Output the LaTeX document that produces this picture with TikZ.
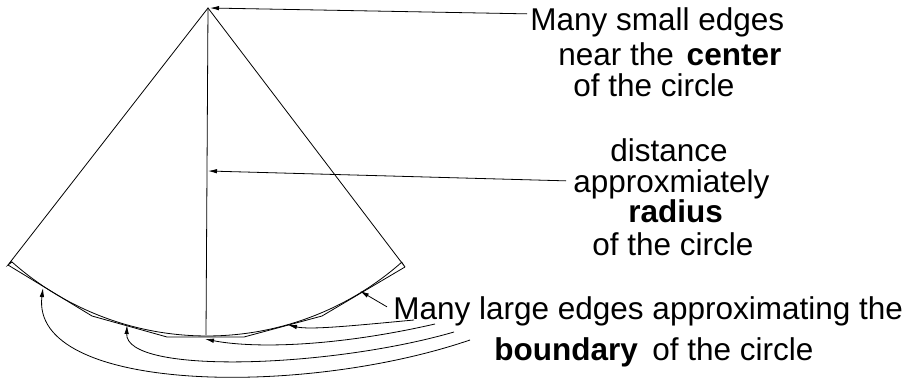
\documentclass[tikz,border=0pt]{standalone}
\usepackage{fontspec}
\setmainfont{Liberation Sans}
\usetikzlibrary{arrows.meta, positioning}

\begin{document}
\begin{tikzpicture}[x=1pt, y=-1pt, line width=0.8pt,
    lbl/.style={anchor=base west, inner sep=0pt, font=\fontsize{31.5}{36}\selectfont},
    ptr/.style={-{Latex[length=9pt, width=4.5pt]}}]
    \useasboundingbox (0,0) rectangle (908,379);

    % Sector corners
    \coordinate (apex) at (208,8);
    \coordinate (lc) at (8,265);
    \coordinate (rc) at (405,267);
    \coordinate (bot) at (206,335);

    % Sector with the circle arc
    \draw (apex) -- (lc) -- (12,262)
        -- plot[domain=131.5:48.5, samples=80] ({207+294*cos(\x)}, {42+294*sin(\x)})
        -- (rc) -- cycle;

    % Large edges along the boundary
    \draw (lc) -- (92,316) -- (167,337) -- (244,337) -- (322,316) -- (rc);

    % Radius
    \draw (apex) -- (bot);

    % Labels
    \node[lbl] (small1) at (530,31) {Many small edges};
    \node[lbl] (small2) at (558,66) {near the\hspace{4pt} \textbf{center}};
    \node[lbl] (small3) at (573,97) {of the circle};
    \node[lbl] (rad1) at (610,162) {distance};
    \node[lbl] (rad2) at (573,193) {approxmiately};
    \node[lbl] (rad3) at (628,223) {\textbf{radius}};
    \node[lbl] (rad4) at (592,256) {of the circle};
    \node[lbl] (large1) at (393,320) {Many large edges approximating the};
    \node[lbl] (large2) at (494,361) {\textbf{boundary}};
    \node[lbl] (large3) at (652,361) {of the circle};

    % Arrow ends
    \coordinate (mid) at (208,171);
    \coordinate (e1) at (360,291);
    \coordinate (e2) at (288,325);
    \coordinate (e3) at (205,339);
    \coordinate (e4) at (127,325);
    \coordinate (e5) at (43,288);
    \coordinate (s2) at (414,320);
    \coordinate (s3) at (435,324);
    \coordinate (s4) at (454,332);
    \coordinate (s5) at (470,340);

    % Pointers
    \draw[ptr] ([xshift=-3pt, yshift=9pt]small1.west) -- ([xshift=2pt]apex);
    \draw[ptr] ([xshift=-7pt, yshift=4pt]rad2.west) -- (mid);
    \draw[ptr] ([xshift=-6pt, yshift=5pt]large1.west) -- (e1);
    \draw[ptr] (s2) .. controls (350,326) and (310,330) .. (e2);
    \draw[ptr] (s3) .. controls (330,348) and (250,348) .. (e3);
    \draw[ptr] (s4) .. controls (330,368) and (125,375) .. (e4);
    \draw[ptr] (s5) .. controls (300,398) and (30,392) .. (e5);
\end{tikzpicture}
\end{document}
